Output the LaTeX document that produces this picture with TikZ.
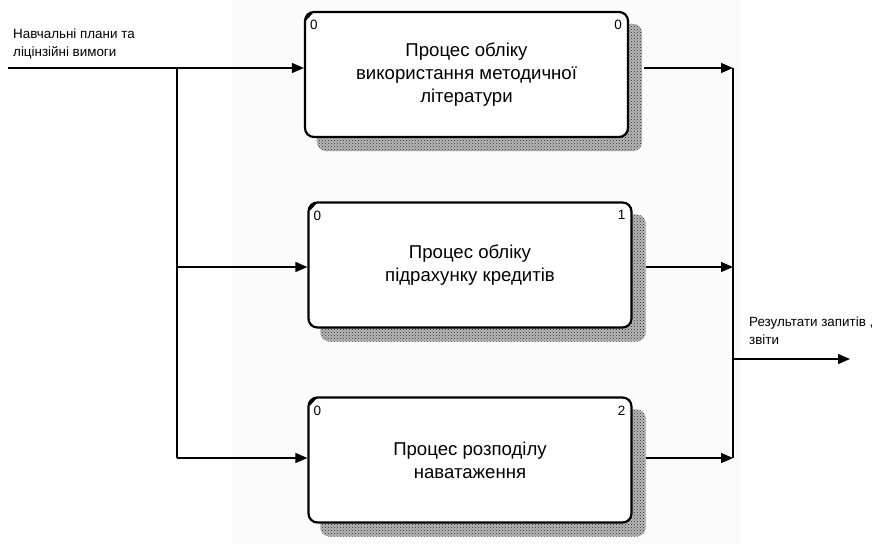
\documentclass[tikz,border=0pt]{standalone}
\usepackage{fontspec}
\setmainfont{Liberation Sans}
\usetikzlibrary{arrows.meta,patterns,backgrounds,calc}
\begin{document}
\begin{tikzpicture}[x=1pt,y=-1pt,
 proc/.style={draw=black, line width=2.2pt, rounded corners=9pt, fill=white,
   minimum width=323pt, minimum height=125pt, align=center,
   font=\fontsize{18.6}{23}\selectfont, inner sep=0pt},
 idtxt/.style={font=\fontsize{13.5}{13.5}\selectfont, inner sep=0pt},
 lbl/.style={font=\fontsize{13.4}{18}\selectfont, align=left, inner sep=0pt, anchor=north west},
 conn/.style={line width=1.2pt, -{Triangle[length=12pt,width=10pt]}},
 ln/.style={line width=1.2pt},
 shad/.style={fill=gray!55, pattern=crosshatch dots, pattern color=gray!40!black},
 cornermark/.style={line width=1.8pt}
]
\useasboundingbox (0,0) rectangle (875,544);
\begin{scope}[on background layer]
  \fill[white] (0,0) rectangle (875,544);
  \fill[gray!3] (232,0) rectangle (740,544);
\end{scope}

\node[proc] (b1) at (466.5,74.5) {Процес обліку\\використання методичної\\літератури};
\node[proc] (b2) at (470,265) {Процес обліку\\підрахунку кредитів};
\node[proc] (b3) at (470,460) {Процес розподілу\\наватаження};

\begin{scope}[on background layer]
  \foreach \b in {b1,b2,b3}{
    \fill[gray!55, rounded corners=9pt] ($(\b.north west)+(13,13)$) rectangle ($(\b.south east)+(13,13)$);
    \fill[pattern=crosshatch dots, pattern color=gray!30!black, rounded corners=9pt] ($(\b.north west)+(13,13)$) rectangle ($(\b.south east)+(13,13)$);
  }
\end{scope}

\foreach \b/\n in {b1/0,b2/1,b3/2}{
  \node[idtxt, anchor=north west] (\b l) at ($(\b.north west)+(6,9)$) {0};
  \node[idtxt, anchor=north east] (\b r) at ($(\b.north east)+(-7,9)$) {\n};
  \draw[cornermark] ($(\b.north west)+(1.5,9)$) -- ($(\b.north west)+(8,2)$);
}

% inputs
\coordinate (in) at (8,68);
\coordinate (j1) at (177,68);
\coordinate (j2) at (177,267);
\coordinate (j3) at (177,458);
\draw[conn] (in) -- (b1.west |- in);
\draw[ln] (j1) -- (j3);
\draw[conn] (j2) -- (b2.west |- j2);
\draw[conn] (j3) -- (b3.west |- j3);
\node[lbl] (inl) at (13,29) {Навчальні плани та\\ліцінзійні вимоги};

% outputs
\coordinate (o1) at (733,68);
\coordinate (o2) at (733,267);
\coordinate (o3) at (733,458);
\coordinate (m) at (733,359);
\coordinate (out) at (850,359);
\draw[conn] ($(b1.east |- o1)+(15,0)$) -- (o1);
\draw[conn] ($(b2.east |- o2)+(13,0)$) -- (o2);
\draw[conn] ($(b3.east |- o3)+(13,0)$) -- (o3);
\draw[ln] (o1) -- (o3);
\draw[conn] (m) -- (out);
\node[lbl] (outl) at (749,317) {Результати запитів ,\\звіти};
\end{tikzpicture}
\end{document}
